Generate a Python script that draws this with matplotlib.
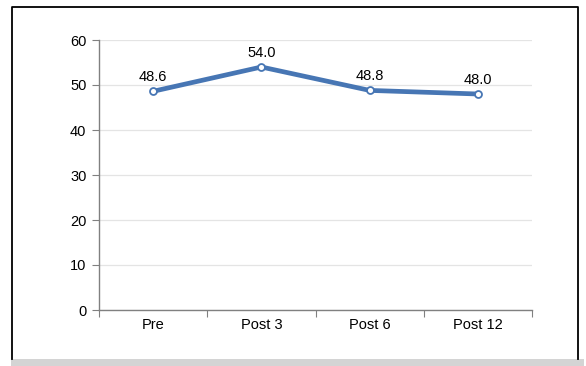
import matplotlib
matplotlib.use("Agg")
import matplotlib.pyplot as plt
from matplotlib.lines import Line2D
from matplotlib.patches import Rectangle
from matplotlib import font_manager

categories = ["Pre", "Post 3", "Post 6", "Post 12"]
values = [48.6, 54.0, 48.8, 48.0]
labels = ["48.6", "54.0", "48.8", "48.0"]
yticks = [0, 10, 20, 30, 40, 50, 60]

names = {f.name for f in font_manager.fontManager.ttflist}
fam = ["Liberation Sans Narrow", "Liberation Sans", "DejaVu Sans"]
fam = [f for f in fam if f in names] or ["DejaVu Sans"]
plt.rcParams['font.family'] = fam

W, H = 586, 366
fig = plt.figure(figsize=(W/100, H/100), dpi=100)

def fx(px): return px / W
def fy(py): return 1 - py / H

ax = fig.add_axes([fx(99), fy(310), fx(532) - fx(99), fy(40) - fy(310)])

FS = 10.5
x = list(range(len(categories)))
ax.plot(x, values, color="#4776b4", lw=3.4, solid_capstyle="round", zorder=3)
ax.plot(x, values, ls="none", marker="o", ms=5, mfc="white", mec="#4776b4", mew=1.3, zorder=4)
for xi, v, t in zip(x, values, labels):
    ax.annotate(t, (xi, v), xytext=(0, 5), textcoords="offset points",
                ha="center", va="bottom", fontsize=FS, color="black")

ax.set_xlim(-0.5, len(categories) - 0.5)
ax.set_ylim(0, 60)
ax.set_yticks(yticks)
ax.set_yticklabels([str(t) for t in yticks], fontsize=FS)
ax.set_xticks([i + 0.5 for i in range(-1, len(categories))], minor=False)
ax.set_xticklabels([])
ax.set_xticks(x, minor=True)
ax.set_xticklabels(categories, minor=True, fontsize=FS)
ax.tick_params(axis="x", which="minor", length=0, pad=6)
ax.tick_params(axis="x", which="major", length=5, color="#808080", direction="out")
ax.tick_params(axis="y", length=5, color="#808080", direction="out", pad=4)

ax.grid(axis="y", color="#e4e4e4", lw=0.9)
ax.set_axisbelow(True)
for s in ["top", "right"]:
    ax.spines[s].set_visible(False)
for s in ["left", "bottom"]:
    ax.spines[s].set_color("#808080")
    ax.spines[s].set_linewidth(1.0)

# outer frame: left, top, right lines only
frame_x = [fx(12), fx(12), fx(578), fx(578)]
frame_y = [fy(359), fy(7), fy(7), fy(359)]
fig.lines.append(Line2D(frame_x, frame_y, transform=fig.transFigure, color="black", lw=1.3))
fig.patches.append(Rectangle((fx(11), fy(366)), fx(584) - fx(11), fy(359) - fy(366),
                             transform=fig.transFigure, fill=True, fc="#d4d4d4", ec="none"))

fig.savefig("out.png", dpi=100)
